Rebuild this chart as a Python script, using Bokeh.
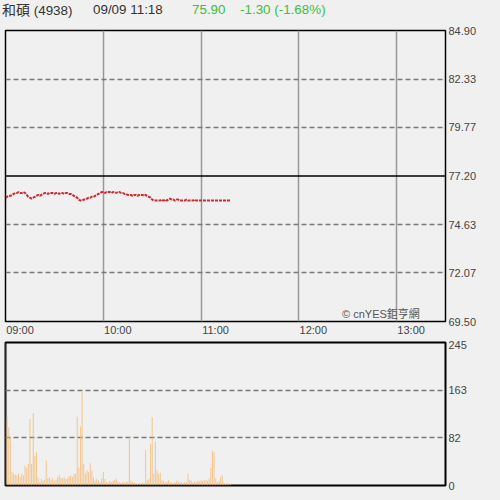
from bokeh.plotting import figure
from bokeh.layouts import column
from bokeh.models import (FixedTicker, Span, Label, Div, CustomJSTickFormatter,
                          LinearAxis, Range1d)
from bokeh.embed import file_html
from bokeh.resources import INLINE

# ---- data ----
minutes = list(range(139))  # minutes after 09:00
price = [76.05, 76.10, 76.15, 76.15,
         76.20, 76.25, 76.30, 76.30, 76.35, 76.30, 76.30, 76.35, 76.30,
         76.20, 76.10, 76.05, 76.00, 76.05,
         76.10, 76.15, 76.20, 76.15, 76.20, 76.25,
         76.30, 76.30, 76.25, 76.30, 76.30, 76.30, 76.25, 76.30, 76.30, 76.25, 76.30,
         76.30, 76.25, 76.30, 76.30, 76.25, 76.25, 76.20, 76.15, 76.10, 76.05,
         75.95, 75.90, 75.90, 75.95, 75.95, 76.00,
         76.05, 76.05, 76.10, 76.10, 76.15, 76.20, 76.25, 76.30,
         76.35, 76.35, 76.30, 76.35, 76.35, 76.35, 76.30, 76.35, 76.35, 76.30, 76.35,
         76.35, 76.30, 76.30, 76.25, 76.25, 76.20,
         76.20, 76.20, 76.15, 76.20, 76.20, 76.15, 76.20, 76.20, 76.20, 76.15, 76.20,
         76.15, 76.10, 76.05,
         75.95, 75.90, 75.90, 75.90, 75.90, 75.90, 75.95, 75.90, 75.95, 75.90,
         75.95, 76.00, 75.95, 75.95, 75.90, 75.95, 75.95, 75.90, 75.90, 75.90,
         75.90, 75.95, 75.90, 75.90, 75.90, 75.90, 75.95, 75.90, 75.90, 75.90,
         75.90, 75.90, 75.90, 75.90, 75.90, 75.90, 75.90, 75.90, 75.90, 75.90,
         75.90, 75.90, 75.90, 75.90, 75.90, 75.90, 75.90, 75.90, 75.90]
volume = [245, 118, 100, 83, 23, 20, 18, 17, 20, 14, 20, 17, 34, 30, 37, 114, 37, 124, 51, 57,
          14, 6, 11, 8, 10, 43, 12, 14, 10, 13, 8, 10, 14, 18, 13, 12, 14, 11, 12, 16,
          17, 15, 20, 20, 118, 31, 101, 160, 37, 20, 26, 23, 38, 26, 14, 8, 11, 9, 6, 12,
          23, 11, 6, 5, 8, 6, 8, 10, 12, 7, 5, 4, 6, 5, 6, 7, 84, 8, 6, 5,
          4, 3, 4, 3, 5, 4, 61, 9, 12, 71, 117, 20, 76, 26, 20, 22, 9, 8, 5, 7,
          9, 6, 5, 4, 6, 8, 7, 5, 6, 4, 6, 5, 20, 10, 8, 5, 7, 6, 8, 7,
          9, 8, 10, 9, 8, 12, 30, 60, 57, 12, 6, 8, 14, 18, 5, 3, 4, 3, 2]

price_ticks = [69.50, 72.07, 74.63, 77.20, 79.77, 82.33, 84.90]
prev_close = 77.20
vol_ticks = [0, 82, 163, 245]
time_ticks = [0, 60, 120, 180, 240]
time_labels = ["09:00", "10:00", "11:00", "12:00", "13:00"]

BG = "#f0f0f0"
FONT = "Liberation Sans, Arial, Noto Sans CJK TC, sans-serif"

header = Div(
    text=(
        '<div style="position:relative;width:500px;height:22px;font-family:Liberation Sans, Arial, \'Noto Sans CJK TC\', sans-serif;font-size:13.4px;color:#333;">'
        '<span style="position:absolute;left:2px;top:0px;white-space:nowrap;"><span style="font-size:14px">和碩</span> (4938)</span>'
        '<span style="position:absolute;left:93px;top:0px;white-space:nowrap;">09/09 11:18</span>'
        '<span style="position:absolute;left:192px;top:0px;white-space:nowrap;color:#3cbf3c;">75.90</span>'
        '<span style="position:absolute;left:240px;top:0px;white-space:nowrap;color:#3cbf3c;">-1.30 (-1.68%)</span>'
        '</div>'
    ),
    width=500, height=22,
    styles={"background-color": BG, "margin": "0", "padding": "0"},
)

# ---- price chart ----
p = figure(frame_width=440, frame_height=291, x_range=(0, 270), y_range=(69.5, 84.9),
           output_backend="svg", toolbar_location=None, x_axis_location=None,
           y_axis_location="right", min_border_left=5, min_border_right=55,
           min_border_top=8, min_border_bottom=19,
           background_fill_color=BG, border_fill_color=BG)
p.outline_line_color = "black"
p.outline_line_width = 1.5
p.yaxis.ticker = FixedTicker(ticks=price_ticks)
p.yaxis.formatter = CustomJSTickFormatter(code="return tick.toFixed(2);")
p.yaxis.axis_line_color = None
p.yaxis.major_tick_line_color = None
p.yaxis.minor_tick_line_color = None
p.yaxis.major_tick_out = 0
p.yaxis.major_tick_in = 0
p.yaxis.minor_tick_out = 0
p.yaxis.major_label_standoff = 3
p.yaxis.major_label_text_font = FONT
p.yaxis.major_label_text_font_size = "11px"
p.yaxis.major_label_text_color = "#444"

# time labels sit to the right of their hour line: a label range shifted by half a label width
p.extra_x_ranges = {"lab": Range1d(-8.9, 261.1)}
xa = LinearAxis(x_range_name="lab", ticker=FixedTicker(ticks=time_ticks),
                major_label_overrides={t: lab for t, lab in zip(time_ticks, time_labels)})
xa.axis_line_color = None
xa.major_tick_line_color = None
xa.minor_tick_line_color = None
xa.major_tick_out = 0
xa.major_tick_in = 0
xa.minor_tick_out = 0
xa.major_label_standoff = 2
xa.major_label_text_font = FONT
xa.major_label_text_font_size = "11px"
xa.major_label_text_color = "#444"
p.add_layout(xa, "below")

p.ygrid.ticker = FixedTicker(ticks=[t for t in price_ticks if t != prev_close and t not in (69.5, 84.9)])
p.ygrid.grid_line_color = "#777"
p.ygrid.grid_line_dash = "5 3"
p.ygrid.grid_line_width = 1.5
p.xgrid.ticker = FixedTicker(ticks=time_ticks[1:])
p.xgrid.grid_line_color = "#999"
p.xgrid.grid_line_width = 1.5
p.add_layout(Span(location=prev_close, dimension="width", line_color="black", line_width=1.5))
p.line(minutes, price, line_color="#d02830", line_width=2, line_dash="3 1")
p.add_layout(Label(x=206.5, y=69.9, text="© cnYES鉅亨網", text_align="left",
                   text_baseline="middle", text_font=FONT, text_font_size="11px",
                   text_color="#555"))

# ---- volume chart ----
v = figure(frame_width=440, frame_height=143, x_range=(0, 270), y_range=(0, 245),
           output_backend="svg", toolbar_location=None, x_axis_location=None,
           y_axis_location="right", min_border_left=5, min_border_right=55,
           min_border_top=2, min_border_bottom=15,
           background_fill_color=BG, border_fill_color=BG)
v.outline_line_color = "black"
v.outline_line_width = 2
v.yaxis.ticker = FixedTicker(ticks=vol_ticks)
v.yaxis.axis_line_color = None
v.yaxis.major_tick_line_color = None
v.yaxis.minor_tick_line_color = None
v.yaxis.major_tick_out = 0
v.yaxis.major_tick_in = 0
v.yaxis.minor_tick_out = 0
v.yaxis.major_label_standoff = 3
v.yaxis.major_label_text_font = FONT
v.yaxis.major_label_text_font_size = "11px"
v.yaxis.major_label_text_color = "#444"
v.ygrid.ticker = FixedTicker(ticks=vol_ticks[1:-1])
v.ygrid.grid_line_color = "#777"
v.ygrid.grid_line_dash = "5 3"
v.ygrid.grid_line_width = 1.5
v.xgrid.grid_line_color = None
v.vbar(x=minutes, top=volume, width=0.6, bottom=0, fill_color="#f5b870",
       line_color=None, fill_alpha=0.8)

layout = column(header, p, v, spacing=0, styles={"background-color": BG})
open("out.html", "w").write(file_html(layout, INLINE))
